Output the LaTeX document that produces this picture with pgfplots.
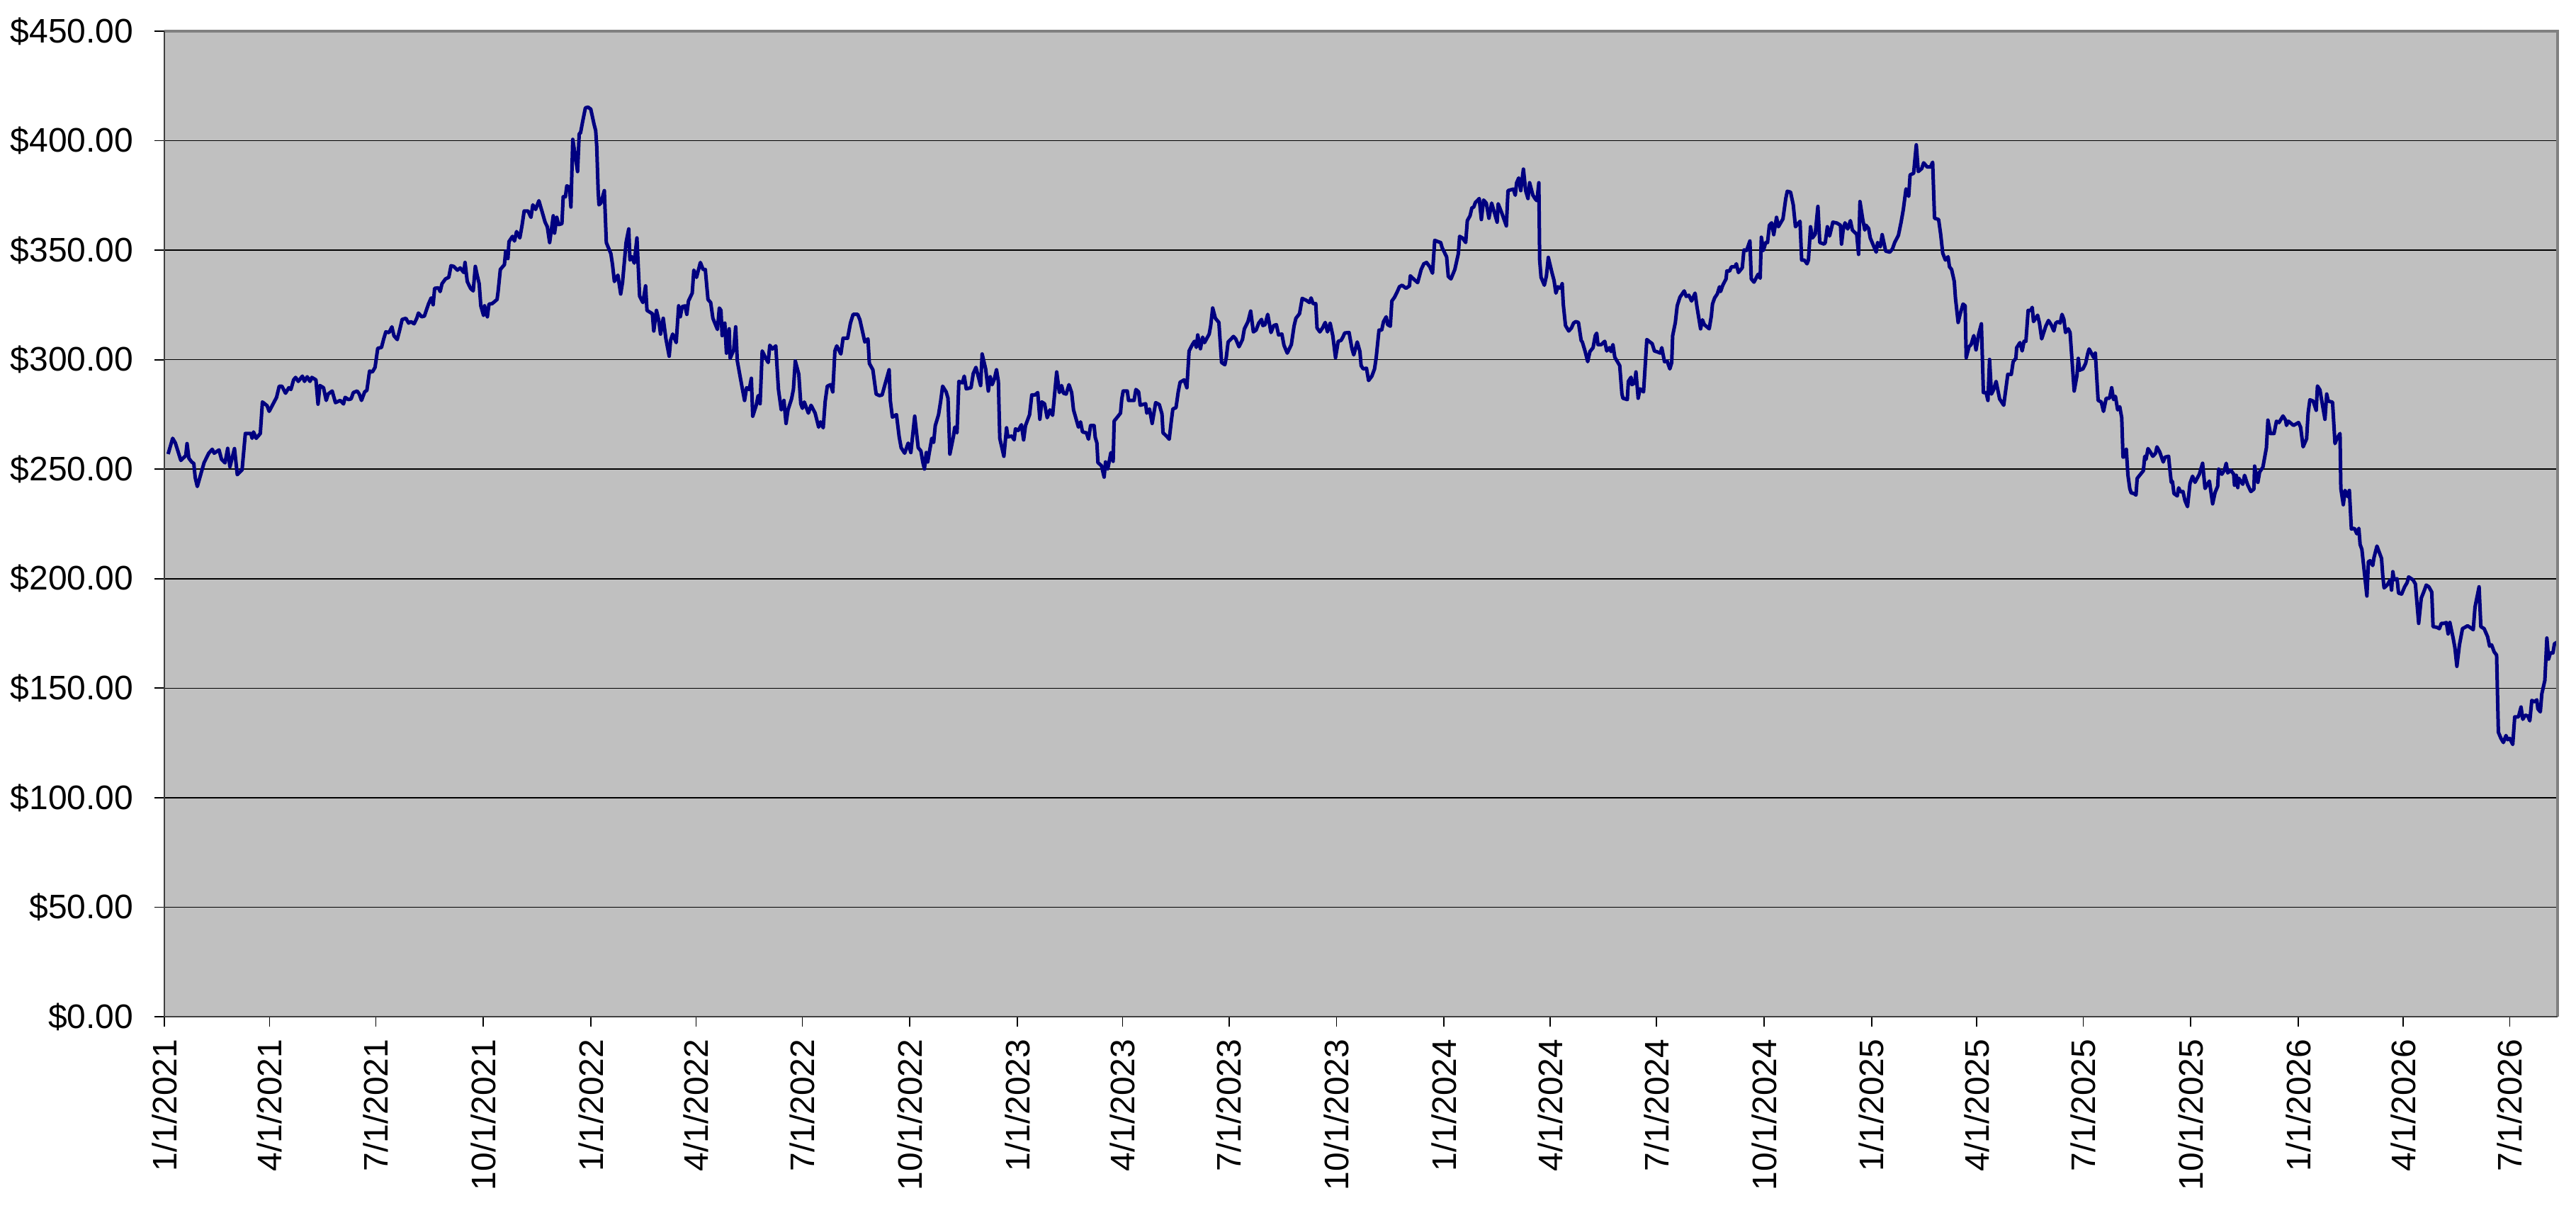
\documentclass[border=0pt]{standalone}
\usepackage{fontspec}
\setmainfont{Liberation Sans}
\usepackage{pgfplots}
\pgfplotsset{compat=1.18}
\definecolor{plotbg}{HTML}{C0C0C0}
\definecolor{navyline}{HTML}{000080}
\definecolor{framegray}{HTML}{808080}
\definecolor{axisdark}{HTML}{404040}
\begin{document}
\begin{tikzpicture}
\useasboundingbox (-46.4pt,-58.6pt) rectangle (680.8pt,287pt);
\begin{axis}[
  name=ax,
  at={(0,0)}, anchor=south west,
  scale only axis, width=675.6pt, height=278.2pt,
  xmin=0, xmax=2048, ymin=0, ymax=450,
  axis background/.style={fill=plotbg},
  axis line style={draw=none},
  ymajorgrids, major grid style={black, line width=0.3pt},
  ytick={0,50,100,150,200,250,300,350,400,450},
  xtick={0,90,181,273,365,455,546,638,730,820,911,1003,1095,1186,1277,1369,1461,1551,1642,1734,1826,1916,2007},
  xticklabels={1/1/2021,4/1/2021,7/1/2021,10/1/2021,1/1/2022,4/1/2022,7/1/2022,10/1/2022,1/1/2023,4/1/2023,7/1/2023,10/1/2023,1/1/2024,4/1/2024,7/1/2024,10/1/2024,1/1/2025,4/1/2025,7/1/2025,10/1/2025,1/1/2026,4/1/2026,7/1/2026},
  tick align=outside, major tick length=2.8pt,
  tick style={black, line width=0.35pt},
  xtick pos=left, ytick pos=left,
  /pgf/number format/assume math mode=true,
  yticklabel={\$\pgfmathprintnumber[fixed,fixed zerofill,precision=2]{\tick}},
  tick label style={font=\fontsize{9.6}{11.5}\selectfont},
  yticklabel style={xshift=-2.4pt},
  xticklabel style={rotate=90, anchor=east},
]
\addplot[navyline, line width=1.0pt, line join=round] coordinates {
(3.2,256.9)(7.1,264.1)(9.4,262.0)(14.1,254.0)(18.3,256.2)(19.4,261.7)(21.0,255.0)(23.4,253.3)(25.2,252.6)(26.4,246.1)(28.2,242.1)(31.7,248.7)(34.0,253.0)(38.0,257.3)(41.0,259.1)(42.6,257.3)(46.8,258.8)(48.9,254.5)(51.9,252.9)(54.2,259.5)(56.1,251.1)(60.0,259.4)(62.4,247.5)(66.5,249.7)(69.3,266.3)(74.0,266.3)(75.1,264.1)(76.3,267.0)(78.6,264.1)(82.1,266.3)(83.9,280.7)(87.9,279.0)(89.7,276.4)(96.0,282.8)(98.3,287.9)(100.6,287.9)(103.7,284.7)(106.5,287.2)(108.3,286.4)(110.6,290.8)(112.3,291.9)(114.6,290.1)(118.1,292.5)(119.9,290.1)(122.2,292.2)(124.6,290.1)(126.2,291.9)(129.7,290.8)(131.5,279.7)(133.1,288.2)(136.2,287.2)(138.5,281.4)(140.1,284.3)(143.6,285.7)(146.4,280.4)(150.5,281.4)(153.3,279.8)(154.7,282.8)(157.5,281.8)(159.8,282.1)(161.7,285.0)(165.0,285.7)(166.8,284.3)(168.7,281.4)(171.4,285.3)(173.3,286.0)(175.6,294.8)(178.0,294.4)(180.3,296.5)(182.6,305.2)(185.8,305.6)(187.7,309.5)(189.5,312.7)(192.3,312.4)(194.7,315.0)(196.5,310.9)(199.3,309.2)(201.6,314.1)(203.5,318.4)(206.7,318.9)(209.0,316.7)(210.9,317.4)(213.7,316.4)(216.0,318.9)(217.4,321.3)(220.2,319.6)(222.5,319.9)(226.0,325.4)(228.3,328.2)(230.0,325.1)(231.3,332.6)(234.6,332.8)(236.0,331.1)(237.6,334.7)(240.6,336.9)(243.4,337.6)(245.3,342.9)(247.6,342.6)(250.8,340.9)(253.2,341.9)(256.2,339.8)(257.3,344.4)(259.2,335.7)(262.0,332.6)(264.3,331.4)(266.1,342.6)(267.8,338.3)(269.4,334.7)(270.8,324.6)(273.1,320.3)(274.0,324.6)(276.4,319.6)(277.8,325.4)(280.5,325.6)(284.7,327.5)(285.6,331.1)(287.5,341.2)(291.0,343.4)(292.1,349.6)(294.0,346.2)(294.9,353.9)(297.9,356.3)(299.6,354.2)(301.4,358.5)(304.2,355.6)(306.1,361.4)(307.9,367.9)(311.2,367.9)(313.7,365.0)(315.3,370.7)(317.7,368.6)(320.5,372.6)(323.5,367.1)(325.8,362.8)(327.7,360.7)(329.7,353.5)(332.8,365.7)(333.9,357.8)(335.8,365.0)(337.4,361.7)(340.2,362.1)(341.3,374.4)(343.2,374.4)(344.4,379.4)(346.7,378.7)(347.9,369.7)(349.5,400.6)(353.6,385.9)
(355.0,403.2)(356.1,403.5)(358.0,408.9)(360.3,415.0)(362.6,415.3)(364.9,414.4)(367.7,407.5)(369.1,404.6)(370.0,397.4)(371.2,377.2)(371.9,370.7)(373.5,371.5)(376.5,377.2)(378.2,353.5)(379.3,352.0)(382.1,348.4)(383.5,343.4)(385.1,335.7)(388.1,338.6)(390.5,330.0)(392.1,335.4)(395.1,353.5)(397.4,359.7)(398.4,345.5)(400.2,347.0)(402.1,344.1)(404.4,355.6)(406.7,329.0)(409.5,326.1)(411.8,333.7)(413.0,322.5)(417.6,321.0)(418.8,313.1)(421.1,322.5)(423.0,318.2)(424.6,311.7)(426.9,318.9)(429.2,309.5)(432.0,301.6)(433.2,308.8)(435.0,311.7)(438.0,307.8)(440.1,324.6)(441.5,319.6)(443.1,324.2)(445.5,324.6)(447.1,320.7)(448.5,326.8)(451.7,330.4)(453.1,340.9)(455.4,337.6)(458.7,344.4)(461.0,341.2)(462.9,341.2)(465.2,327.5)(467.5,326.1)(469.4,318.9)(473.3,313.8)(474.9,323.6)(476.3,322.5)(477.3,311.0)(479.6,316.7)(481.0,303.0)(483.3,314.1)(484.2,300.6)(487.2,304.5)(488.9,315.0)(490.3,299.4)(494.2,287.9)(496.5,281.4)(498.2,287.2)(500.5,286.4)(502.3,291.5)(503.5,274.2)(506.5,279.2)(508.1,283.6)(509.8,279.9)(511.6,304.0)(514.4,300.9)(516.7,298.7)(518.1,306.6)(520.4,304.9)(523.2,306.3)(525.5,286.4)(527.9,277.1)(530.2,281.4)(532.0,270.9)(533.7,277.1)(536.7,282.1)(538.3,286.4)(539.9,299.4)(542.9,293.4)(544.6,279.9)(546.0,277.8)(547.6,280.7)(551.1,275.6)(553.4,279.2)(556.9,275.6)(559.9,269.2)(561.5,271.6)(563.8,268.9)(565.5,281.0)(567.3,287.9)(570.1,288.6)(572.0,285.3)(573.8,304.0)(575.4,306.3)(578.9,302.6)(580.8,309.8)(584.7,309.8)(587.1,316.7)(589.4,320.7)(593.3,320.7)(595.2,318.2)(597.5,312.7)(599.4,308.1)(602.1,309.5)(603.3,298.3)(606.3,295.4)(609.1,284.3)(611.9,283.6)(614.2,283.9)(616.1,287.6)(620.2,295.4)(621.2,281.4)(623.0,273.8)(626.5,274.9)(628.8,264.8)(630.5,259.8)(633.5,257.3)(636.5,261.9)(638.8,257.6)(642.1,274.2)(645.1,259.8)(647.4,258.3)(649.0,253.3)(650.4,250.1)(652.0,257.6)(653.2,253.3)(656.7,264.1)(658.3,262.2)(659.7,269.9)(662.5,274.9)(664.3,281.0)(666.0,287.9)(669.0,285.3)(670.6,282.4)(672.2,256.9)(675.3,265.1)(676.4,269.2)(678.3,266.6)(679.9,290.1)(682.9,289.4)(684.5,292.5)(686.2,286.7)(690.3,287.2)(692.2,293.7)(694.5,296.5)(698.5,288.2)
(699.8,302.6)(702.8,295.8)(705.1,285.7)(706.7,292.2)(708.4,288.6)(710.2,291.1)(712.1,295.4)(713.7,290.1)(714.9,264.1)(718.4,255.9)(720.7,268.9)(721.8,264.8)(725.3,265.1)(727.2,263.4)(728.3,268.4)(730.7,267.7)(733.4,270.3)(735.3,263.4)(736.9,269.9)(740.4,274.9)(742.3,283.9)(745.0,283.9)(747.4,285.0)(749.2,272.8)(750.8,280.7)(753.2,279.9)(755.5,273.5)(757.8,277.1)(760.1,274.6)(763.6,294.4)(765.9,285.0)(767.8,288.2)(769.4,284.7)(771.7,284.3)(774.1,288.6)(776.4,285.0)(778.0,277.1)(782.2,269.2)(784.0,271.6)(785.7,267.0)(789.1,266.6)(790.8,263.7)(792.6,269.9)(795.6,269.9)(796.6,264.5)(798.0,262.0)(798.9,253.0)(801.9,251.6)(804.2,246.4)(805.4,253.3)(807.3,250.1)(810.0,257.6)(811.9,253.6)(812.8,272.0)(815.1,273.5)(818.2,275.6)(819.3,282.1)(820.5,285.7)(824.0,285.7)(825.1,281.4)(829.8,281.4)(831.4,286.4)(833.7,285.3)(835.1,279.2)(839.7,279.9)(840.7,275.6)(843.0,277.5)(845.3,270.9)(848.3,280.4)(851.4,279.5)(853.7,275.2)(854.6,266.6)(857.6,265.1)(859.9,263.7)(861.6,271.6)(863.0,277.5)(865.7,278.1)(867.6,285.3)(869.2,289.7)(872.7,290.8)(875.0,287.2)(876.9,304.0)(879.7,306.9)(881.5,308.4)(883.1,305.6)(884.3,311.3)(886.6,305.0)(888.5,310.3)(890.1,307.8)(894.1,311.7)(895.4,315.6)(897.1,323.6)(899.4,318.9)(902.4,317.0)(904.7,298.7)(907.5,297.7)(908.7,300.9)(910.3,308.1)(914.9,310.6)(916.8,309.5)(919.6,305.9)(922.6,309.2)(924.2,314.1)(927.3,317.4)(929.6,322.2)(931.9,312.7)(934.2,313.5)(936.5,316.7)(938.9,318.4)(940.0,315.6)(941.9,316.0)(944.2,320.7)(947.0,312.4)(949.3,315.6)(951.6,316.0)(953.5,311.3)(956.3,311.7)(958.1,306.6)(960.9,303.0)(964.4,306.9)(966.7,315.3)(968.3,318.9)(971.4,321.0)(973.7,328.0)(977.2,327.1)(979.9,326.1)(981.3,328.2)(983.0,325.6)(985.3,325.6)(986.4,314.5)(988.8,312.7)(991.1,314.5)(993.4,317.0)(995.3,312.7)(997.6,316.7)(999.9,310.9)(1002.2,300.9)(1004.5,308.4)(1006.9,308.8)(1008.5,310.3)(1010.1,312.2)(1013.8,312.4)(1016.2,305.2)(1017.8,302.2)(1020.8,308.1)(1023.1,303.7)(1024.1,297.3)(1025.9,295.8)(1028.7,296.1)(1030.5,290.5)(1033.3,292.5)(1035.6,295.8)(1037.0,300.9)(1039.4,313.5)(1041.7,313.5)(1043.3,317.4)(1045.6,319.6)(1046.8,316.0)(1049.1,315.3)
(1050.4,326.8)(1052.7,328.5)(1055.1,331.1)(1056.9,333.3)(1059.2,334.0)(1062.5,332.6)(1065.5,333.7)(1066.2,338.3)(1069.5,336.6)(1072.5,335.2)(1075.5,341.2)(1077.8,343.8)(1080.1,344.4)(1082.9,342.4)(1085.2,339.5)(1087.1,354.5)(1089.9,353.9)(1092.2,353.5)(1093.4,351.2)(1097.3,346.9)(1098.7,338.0)(1101.0,336.9)(1104.3,341.2)(1107.3,348.4)(1108.4,356.3)(1110.8,355.6)(1113.6,353.5)(1115.0,363.5)(1117.3,365.7)(1118.9,369.3)(1120.5,369.7)(1121.9,371.8)(1123.5,372.6)(1125.2,373.6)(1127.0,364.0)(1128.9,372.9)(1131.2,371.5)(1133.5,364.6)(1135.8,371.5)(1138.2,367.1)(1140.5,362.8)(1141.4,371.2)(1144.4,367.1)(1148.4,361.1)(1149.8,377.2)(1154.4,377.9)(1156.0,375.1)(1157.2,380.8)(1159.0,383.0)(1160.7,377.2)(1163.0,387.0)(1164.9,377.2)(1166.9,373.6)(1168.3,380.8)(1171.1,375.1)(1173.4,373.2)(1174.6,372.6)(1176.2,380.8)(1176.9,345.5)(1178.1,337.6)(1180.9,334.0)(1182.7,338.3)(1184.3,346.7)(1187.4,339.8)(1189.2,336.2)(1190.8,330.4)(1192.5,333.3)(1194.8,332.6)(1196.2,334.7)(1197.1,325.4)(1199.0,315.6)(1201.8,313.1)(1204.1,314.5)(1205.9,316.7)(1207.8,317.4)(1210.1,317.0)(1212.4,308.8)(1213.4,308.1)(1215.7,304.0)(1218.0,299.1)(1219.9,303.7)(1222.6,305.5)(1224.5,311.0)(1225.7,312.1)(1226.8,306.9)(1229.6,306.9)(1232.6,308.4)(1234.3,304.0)(1236.6,305.5)(1238.0,303.7)(1239.6,306.9)(1241.2,301.1)(1243.1,299.4)(1245.4,297.3)(1247.3,284.3)(1248.2,282.4)(1251.9,281.8)(1252.8,290.1)(1255.1,292.0)(1255.8,288.6)(1258.2,289.4)(1259.3,294.4)(1261.2,282.4)(1262.8,286.7)(1265.8,285.3)(1268.6,309.2)(1270.5,308.4)(1273.2,307.3)(1275.1,304.0)(1277.9,303.5)(1280.2,303.0)(1281.4,305.5)(1283.7,299.1)(1286.0,299.4)(1288.3,295.8)(1289.9,298.7)(1290.7,310.9)(1293.0,317.0)(1294.6,324.6)(1296.9,328.5)(1300.6,331.4)(1302.3,328.9)(1304.6,329.4)(1306.9,326.8)(1309.9,330.4)(1311.5,324.2)(1314.6,314.1)(1316.2,318.2)(1317.8,316.0)(1322.0,314.1)(1323.8,319.9)(1324.8,325.4)(1326.6,328.2)(1328.9,330.0)(1330.8,333.3)(1331.7,331.1)(1333.6,334.0)(1336.4,336.9)(1337.1,340.5)(1339.4,340.5)(1341.0,342.4)(1344.0,342.4)(1345.2,343.8)(1347.0,339.8)(1350.3,342.0)(1351.7,350.1)(1354.0,349.9)(1356.8,354.2)(1358.0,336.9)(1360.3,335.4)(1363.8,339.0)(1365.6,337.2)(1366.6,355.9)(1368.4,349.9)(1370.3,353.5)(1371.9,353.5)(1373.5,361.4)(1375.4,362.5)(1377.2,357.1)(1379.6,365.0)(1381.2,360.7)(1385.1,364.3)(1387.5,373.6)(1388.8,376.9)(1391.6,376.5)(1393.9,370.7)(1395.8,360.7)(1399.7,363.2)
(1401.1,345.5)(1403.4,345.5)(1405.7,343.8)(1406.9,345.5)(1408.7,360.7)(1410.3,355.6)(1412.7,357.3)(1415.0,370.0)(1416.6,353.5)(1420.3,352.8)(1421.3,353.5)(1423.1,360.7)(1425.0,356.5)(1427.8,362.8)(1431.2,362.4)(1434.3,361.4)(1435.2,352.8)(1436.6,359.2)(1438.2,362.5)(1440.5,359.7)(1442.8,363.5)(1444.5,359.2)(1446.3,358.2)(1448.2,357.3)(1449.8,348.1)(1451.0,372.2)(1453.3,364.3)(1455.1,359.2)(1456.1,361.4)(1458.4,359.9)(1459.8,355.6)(1462.6,352.0)(1464.9,349.1)(1466.1,353.5)(1468.4,351.6)(1470.0,357.1)(1473.0,349.6)(1476.5,349.1)(1478.8,350.6)(1480.7,353.5)(1483.9,356.8)(1486.2,362.8)(1488.1,368.6)(1490.4,378.0)(1492.7,374.6)(1493.9,384.4)(1496.9,385.1)(1499.2,398.1)(1500.9,385.9)(1503.9,387.3)(1505.5,389.9)(1508.5,388.0)(1511.3,388.0)(1513.2,390.2)(1514.8,364.6)(1518.3,364.0)(1520.1,357.1)(1521.8,348.7)(1524.1,345.5)(1526.4,347.0)(1527.6,342.4)(1529.4,341.2)(1531.7,335.7)(1532.7,328.2)(1535.0,317.0)(1536.8,321.0)(1539.2,325.4)(1541.0,324.6)(1541.9,300.9)(1544.3,305.9)(1546.1,306.9)(1548.4,311.0)(1550.3,304.5)(1552.6,311.7)(1554.9,316.4)(1556.6,285.0)(1558.9,285.0)(1560.5,281.4)(1561.9,300.1)(1563.5,284.3)(1565.2,286.1)(1567.5,290.1)(1570.5,282.1)(1574.0,279.2)(1577.5,293.3)(1580.5,293.3)(1582.1,299.1)(1584.4,300.6)(1585.1,305.5)(1587.9,307.8)(1589.8,304.0)(1591.4,308.4)(1593.0,308.4)(1594.9,322.5)(1597.2,322.5)(1598.4,323.9)(1599.5,317.4)(1603.0,320.3)(1604.6,316.7)(1606.5,309.5)(1610.0,315.3)(1612.3,317.9)(1614.6,316.0)(1616.9,313.1)(1618.5,316.7)(1620.4,317.4)(1622.3,316.7)(1623.9,320.7)(1625.5,318.4)(1626.9,312.4)(1629.2,314.1)(1630.8,312.4)(1632.5,299.4)(1634.3,285.7)(1636.7,292.8)(1637.8,300.6)(1639.0,295.2)(1641.8,295.8)(1644.1,298.3)(1646.0,303.0)(1647.1,304.9)(1649.4,302.6)(1651.1,300.9)(1652.4,303.0)(1654.8,281.4)(1657.5,280.7)(1659.4,276.4)(1661.7,282.4)(1664.5,282.4)(1666.4,287.2)(1668.0,281.8)(1669.6,283.3)(1671.5,277.1)(1673.3,278.5)(1675.0,273.5)(1676.1,255.5)(1678.0,255.9)(1678.9,259.1)(1680.3,247.3)(1681.9,241.1)(1683.1,239.2)(1685.4,238.9)(1687.2,238.2)(1688.2,245.8)(1691.2,247.8)(1693.5,249.3)(1694.7,255.9)(1695.8,254.5)(1697.5,259.4)(1699.3,258.0)(1701.6,255.9)(1704.0,257.3)(1705.1,260.2)(1707.4,258.0)(1710.5,253.3)(1712.1,255.5)(1715.1,255.9)(1716.0,250.8)(1717.4,244.0)(1718.4,244.4)(1719.7,238.9)(1722.5,237.8)(1723.7,241.5)(1725.3,239.7)
(1727.4,239.8)(1729.1,235.7)(1731.3,232.9)(1733.4,243.5)(1735.6,246.8)(1737.7,244.0)(1741.4,247.7)(1744.2,252.7)(1746.3,241.2)(1750.0,244.6)(1752.8,234.2)(1754.9,239.4)(1757.1,242.2)(1757.9,250.1)(1760.7,247.7)(1762.9,249.6)(1764.4,252.7)(1765.7,248.3)(1768.3,249.6)(1770.8,247.7)(1771.5,242.7)(1773.0,247.2)(1774.3,241.6)(1775.1,245.9)(1778.6,243.1)(1780.1,247.2)(1782.9,242.7)(1785.5,239.8)(1788.1,240.9)(1788.7,251.4)(1791.5,244.0)(1793.0,248.7)(1795.8,250.9)(1798.8,259.8)(1800.1,272.4)(1802.3,266.3)(1805.3,266.3)(1807.4,271.9)(1809.6,271.3)(1813.0,274.3)(1815.2,272.4)(1816.0,270.0)(1817.7,271.9)(1822.0,270.0)(1826.3,271.3)(1828.1,269.1)(1830.2,260.2)(1833.2,263.9)(1834.5,275.6)(1836.0,281.7)(1838.8,281.1)(1841.4,276.9)(1842.5,288.0)(1844.6,286.2)(1848.9,272.8)(1850.4,284.3)(1851.7,281.1)(1855.4,280.6)(1857.5,261.7)(1859.0,263.9)(1861.8,266.3)(1862.5,241.2)(1864.6,233.8)(1866.1,240.3)(1868.3,237.5)(1869.8,240.3)(1871.5,222.7)(1874.1,223.0)(1876.2,220.5)(1877.9,223.0)(1879.0,215.6)(1880.5,213.4)(1884.8,192.1)(1886.1,207.8)(1887.6,208.2)(1889.8,206.0)(1890.9,209.7)(1893.4,214.9)(1897.3,209.3)(1898.4,201.3)(1899.5,195.8)(1902.1,197.1)(1904.8,199.5)(1905.9,194.8)(1907.0,203.2)(1908.1,199.5)(1910.6,200.0)(1911.9,193.4)(1914.5,193.0)(1917.1,196.3)(1919.2,198.2)(1920.5,200.8)(1924.2,199.5)(1926.3,197.6)(1929.1,179.6)(1931.3,191.1)(1933.4,193.9)(1935.6,197.1)(1937.8,196.3)(1940.3,193.9)(1941.4,178.1)(1944.6,177.8)(1946.8,177.2)(1948.5,179.6)(1950.7,179.6)(1952.8,180.0)(1954.3,174.8)(1955.8,180.0)(1958.6,172.9)(1960.1,168.5)(1961.8,160.0)(1964.0,169.8)(1966.6,177.2)(1968.7,177.8)(1970.9,178.5)(1973.0,177.8)(1975.8,176.7)(1977.3,187.0)(1980.8,196.3)(1982.3,178.1)(1985.1,177.2)(1988.1,173.5)(1989.8,169.2)(1991.5,169.8)(1993.7,166.6)(1995.8,165.1)(1997.3,129.9)(1999.5,127.1)(2001.6,125.2)(2003.8,128.4)(2005.3,126.5)(2007.0,127.1)(2009.6,124.3)(2011.3,136.9)(2014.5,136.9)(2016.7,141.4)(2018.2,135.8)(2020.3,137.7)(2022.5,137.3)(2024.2,135.1)(2025.9,144.4)(2028.5,143.8)(2030.2,144.7)(2031.1,140.6)(2033.2,139.2)(2034.5,147.5)(2037.1,153.6)(2038.8,172.9)(2040.3,163.3)(2041.8,166.1)(2044.0,166.1)(2045.3,170.3)(2047.9,171.1)
};
\end{axis}
\draw[framegray, line width=0.8pt] (ax.north west) -- (ax.north east) -- (ax.south east);
\draw[axisdark, line width=0.5pt] (ax.north west) -- (ax.south west) -- (ax.south east);
\end{tikzpicture}
\end{document}
